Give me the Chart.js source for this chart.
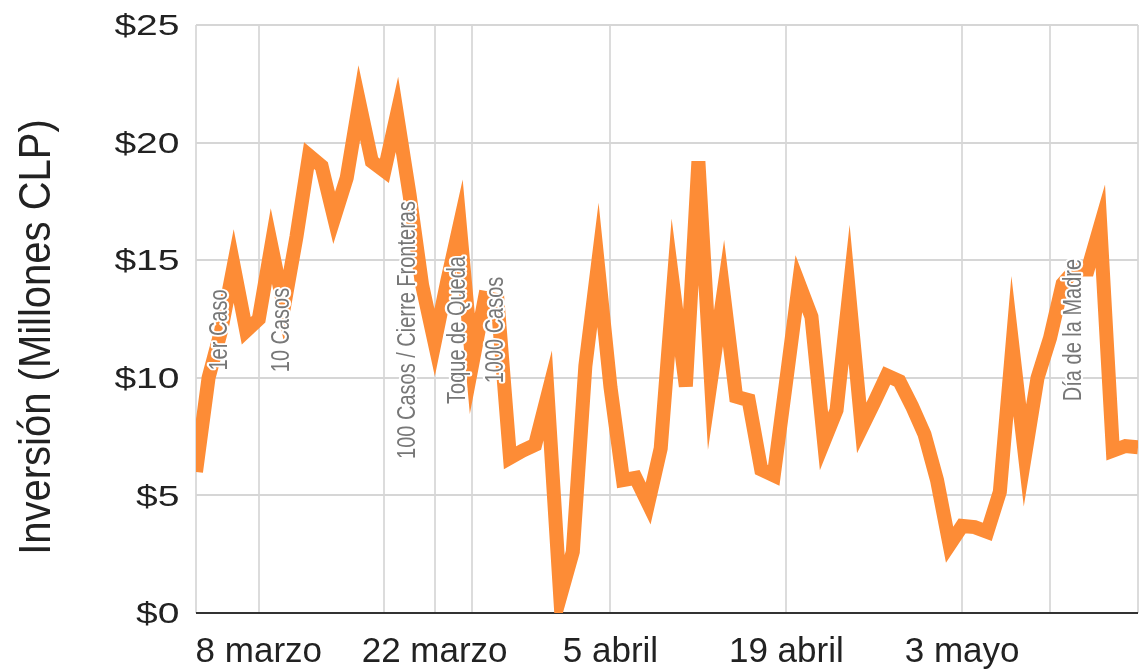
<!DOCTYPE html>
<html>
<head>
<meta charset="utf-8">
<script src="https://cdn.jsdelivr.net/npm/chart.js@4.4.0/dist/chart.umd.min.js"></script>
<style>
  html, body { margin: 0; padding: 0; background: #fff; }
  #grafico { display: block; }
</style>
</head>
<body>
<canvas id="grafico" width="1144" height="671"></canvas>
<script>
// Inversión diaria en millones de CLP, del 3 de marzo al 17 de mayo
const inicio = new Date(2020, 2, 3);
const meses = ['enero', 'febrero', 'marzo', 'abril', 'mayo'];

const inversion = [
  6.0, 10.0, 12.0, 14.75, 12.0, 12.5, 15.6, 13.0, 16.0, 19.45,
  19.0, 16.8, 18.5, 21.7, 19.2, 18.8, 21.2, 17.8, 13.95, 11.5,
  14.1, 16.5, 10.6, 13.4, 13.3, 6.6, 6.9, 7.15, 9.25, 0.7,
  2.6, 10.5, 14.8, 9.6, 5.65, 5.75, 4.65, 7.0, 13.85, 9.64,
  19.2, 9.9, 13.6, 9.2, 9.05, 6.1, 5.85, 9.9, 14.0, 12.6,
  7.3, 8.63, 13.55, 7.87, 8.96, 10.1, 9.86, 8.8, 7.6, 5.65,
  2.9, 3.7, 3.65, 3.45, 5.15, 11.35, 6.7, 10.0, 11.7, 14.0,
  14.6, 14.6, 16.45, 6.9, 7.1, 7.05
];

const ticksY = [0, 5, 10, 15, 20, 25];
const etiquetasEje = ['8 marzo', '22 marzo', '5 abril', '19 abril', '3 mayo'];
const eventos = ['1er Caso', '10 Casos', '100 Casos / Cierre Fronteras', 'Toque de Queda', '1000 Casos', 'Día de la Madre'];
const fechasEventos = ['3 marzo', '8 marzo', '18 marzo', '22 marzo', '25 marzo', '10 mayo'];
const tituloY = 'Inversión (Millones CLP)';

// una etiqueta por día
const fechas = inversion.map((_, i) => {
  const d = new Date(inicio);
  d.setDate(d.getDate() + i);
  return d.getDate() + ' ' + meses[d.getMonth()];
});
const lineasX = etiquetasEje.concat(fechasEventos, [fechas[fechas.length - 1]]);

const fuente = '"Liberation Sans", Arial, sans-serif';

// textos de eventos, etiquetas del eje Y (algo anchas) y título del eje Y
const notas = {
  id: 'notas',
  beforeDatasetsDraw(chart) {
    chart.ctx.miterLimit = 10.5;
  },
  afterDatasetsDraw(chart) {
    const ctx = chart.ctx;
    const area = chart.chartArea;
    const x = chart.scales.x;
    const y = chart.scales.y;
    ctx.miterLimit = 10;
    ctx.save();
    ctx.font = '20px ' + fuente;
    ctx.textAlign = 'center';
    ctx.textBaseline = 'alphabetic';
    ctx.lineJoin = 'round';
    const medio = (area.top + area.bottom) / 2 + 11;
    eventos.forEach((texto, i) => {
      const px = x.getPixelForValue(fechas.indexOf(fechasEventos[i]));
      ctx.save();
      ctx.translate(px + 30.5, medio);
      ctx.rotate(-Math.PI / 2);
      ctx.scale(1, 1.25);
      ctx.strokeStyle = '#fff';
      ctx.lineWidth = 3.5;
      ctx.strokeText(texto, 0, 0);
      ctx.fillStyle = '#777';
      ctx.fillText(texto, 0, 0);
      ctx.restore();
    });

    ctx.font = '30px ' + fuente;
    ctx.fillStyle = '#222';
    ctx.textAlign = 'right';
    ctx.textBaseline = 'middle';
    y.ticks.forEach((t) => {
      ctx.save();
      ctx.translate(area.left - 16.5, y.getPixelForValue(t.value) + 2);
      ctx.scale(1.3, 1);
      ctx.fillText('$' + t.value, 0, 0);
      ctx.restore();
    });

    ctx.save();
    ctx.font = '40px ' + fuente;
    ctx.textAlign = 'center';
    ctx.textBaseline = 'alphabetic';
    ctx.translate(50, (area.top + area.bottom) / 2 + 18);
    ctx.rotate(-Math.PI / 2);
    ctx.scale(1, 1.12);
    ctx.fillText(tituloY, 0, 0);
    ctx.restore();
    ctx.restore();
  }
};

new Chart(document.getElementById('grafico'), {
  type: 'line',
  data: {
    labels: fechas,
    datasets: [{
      data: inversion,
      borderColor: '#fd8c36',
      borderWidth: 14,
      borderJoinStyle: 'miter',
      borderCapStyle: 'butt',
      pointRadius: 0,
      tension: 0,
      fill: false,
      clip: 0
    }]
  },
  options: {
    responsive: false,
    animation: false,
    devicePixelRatio: 1,
    layout: { padding: { top: 25, right: 6, left: 0, bottom: 0 } },
    plugins: {
      legend: { display: false },
      tooltip: { enabled: false }
    },
    scales: {
      x: {
        type: 'category',
        offset: false,
        afterFit(scale) { scale.height = 58; },
        border: { display: false },
        grid: {
          drawTicks: true,
          tickLength: 18,
          tickColor: 'rgba(0,0,0,0)',
          lineWidth: 2,
          color: (c) => lineasX.includes(fechas[c.index]) ? '#dcdcdc' : 'rgba(0,0,0,0)'
        },
        ticks: {
          autoSkip: false,
          maxRotation: 0,
          padding: 0,
          color: '#222',
          font: { family: fuente, size: 35 },
          callback(value, index) {
            return etiquetasEje.includes(fechas[index]) ? fechas[index] : '';
          }
        }
      },
      y: {
        min: 0,
        max: 25,
        afterBuildTicks(scale) { scale.ticks = ticksY.map((v) => ({ value: v })); },
        afterFit(scale) { scale.width = 196; },
        border: { display: false },
        grid: {
          drawTicks: false,
          lineWidth: 2,
          color: (c) => c.tick.value === 0 ? '#333' : '#d6d6d6'
        },
        ticks: { display: false }
      }
    }
  },
  plugins: [notas]
});
</script>
</body>
</html>
